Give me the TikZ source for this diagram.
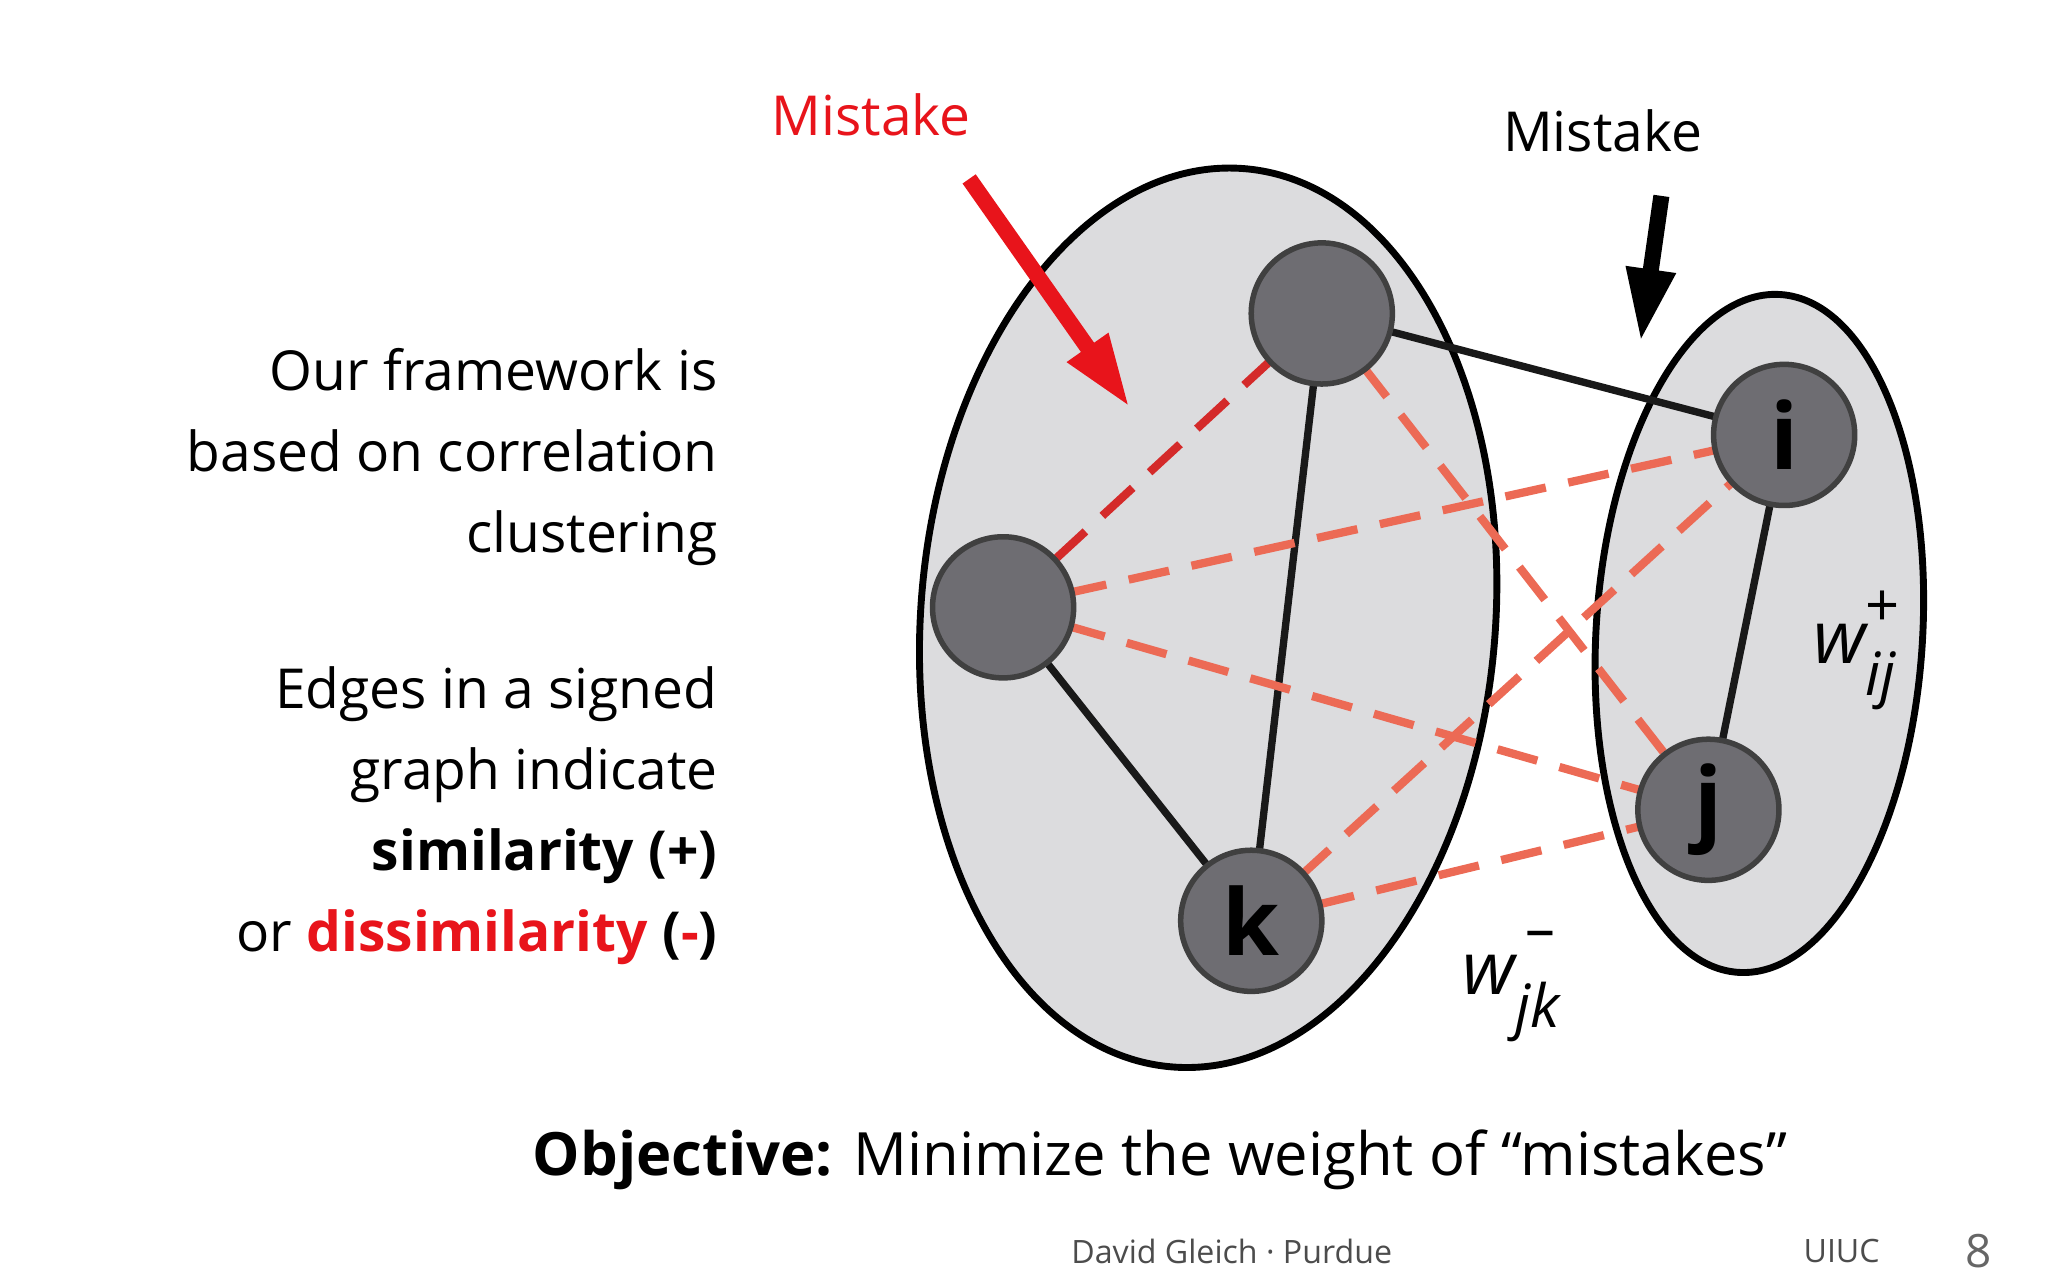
\documentclass[tikz,border=0pt]{standalone}
\usepackage{fontspec}
\setmainfont{Open Sans}
\usetikzlibrary{arrows.meta}
\definecolor{nodeg}{HTML}{6E6D72}
\definecolor{ellg}{HTML}{DCDCDE}
\definecolor{dred}{HTML}{D42A2A}
\definecolor{lred}{HTML}{EC6A55}
\definecolor{mred}{HTML}{E8141B}
\begin{document}
\begin{tikzpicture}[x=0.01cm,y=-0.01cm,
  vtx/.style={circle,draw=black!75,line width=1.2pt,fill=nodeg,minimum size=1.08cm,inner sep=0pt,text=black,font=\fontsize{20}{20}\selectfont\bfseries},
  posedge/.style={line width=1.6pt,black!90},
  negd/.style={line width=1.8pt,dred,dash pattern=on 9pt off 5pt},
  negl/.style={line width=1.8pt,lred,dash pattern=on 9pt off 5pt},
  txt/.style={font=\fontsize{12}{17.6}\selectfont},
  wlab/.style={font=\fontsize{16}{16}\selectfont\itshape}]
\useasboundingbox (0,0) rectangle (1568,980);
\fill[white] (0,0) rectangle (1568,980);
\draw[line width=1.5pt,fill=ellg] (925,473) ellipse[x radius=220,y radius=345,rotate=-4.6];
\draw[line width=1.5pt,fill=ellg] (1347,485) ellipse[x radius=125,y radius=260,rotate=-3.5];
\coordinate (t) at (1012,240);
\coordinate (l) at (768,465);
\coordinate (k) at (958,705);
\coordinate (i) at (1366,333);
\coordinate (j) at (1308,620);
\draw[posedge] (t) -- (i);
\draw[posedge] (t) -- (k);
\draw[posedge] (l) -- (k);
\draw[posedge] (i) -- (j);
\draw[negd] (t) -- (l);
\draw[negl] (t) -- (j);
\draw[negl] (l) -- (i);
\draw[negl] (l) -- (j);
\draw[negl] (k) -- (i);
\draw[negl] (k) -- (j);
\node[vtx] (nt) at (t) {};
\node[vtx] (nl) at (l) {};
\node[vtx] (nk) at (k) {k};
\node[vtx] (ni) at (i) {i};
\node[vtx] (nj) at (j) {j};
\node[txt,text=mred] (m1) at (667,88) {Mistake};
\node[txt] (m2) at (1227,100) {Mistake};
\coordinate (a1s) at (742,137); \coordinate (a1e) at (865,312);
\coordinate (a2s) at (1272,150); \coordinate (a2e) at (1256,262);
\draw[mred,line width=3.5pt,-{Triangle[length=16pt,width=10pt]}] (a1s) -- (a1e);
\draw[black,line width=3.5pt,-{Triangle[length=16pt,width=10pt]}] (a2s) -- (a2e);
\node[txt,align=right,anchor=north east,inner sep=0pt] (t1) at (550,266) {Our framework is\\based on correlation\\clustering};
\node[txt,align=right,anchor=north east,inner sep=0pt] (t2) at (550,510) {Edges in a signed\\graph indicate\\\textbf{similarity (+)}\\or \textbf{\textcolor{mred}{dissimilarity}} \textbf{(\textcolor{mred}{-})}};
\node[wlab] (wij) at (1420,498) {w\rlap{\raisebox{8pt}{\upshape\fontsize{13}{13}\selectfont +}}\raisebox{-7pt}{\fontsize{13}{13}\selectfont ij}};
\node[wlab] (wjk) at (1157,755) {w\rlap{\raisebox{10pt}{\upshape\fontsize{13}{13}\selectfont\,–}}\raisebox{-7pt}{\fontsize{13}{13}\selectfont jk}};
\node[font=\fontsize{13}{16}\selectfont] (obj) at (888,888) {\textbf{Objective:} Minimize the weight of “mistakes”};
\node[font=\fontsize{7}{8}\selectfont,text=black!70] (f1) at (943,958) {David Gleich · Purdue};
\node[font=\fontsize{7}{8}\selectfont,text=black!70] (f2) at (1410,958) {UIUC};
\node[font=\fontsize{10}{10}\selectfont,text=black!60] (f3) at (1515,958) {8};
\end{tikzpicture}
\end{document}
